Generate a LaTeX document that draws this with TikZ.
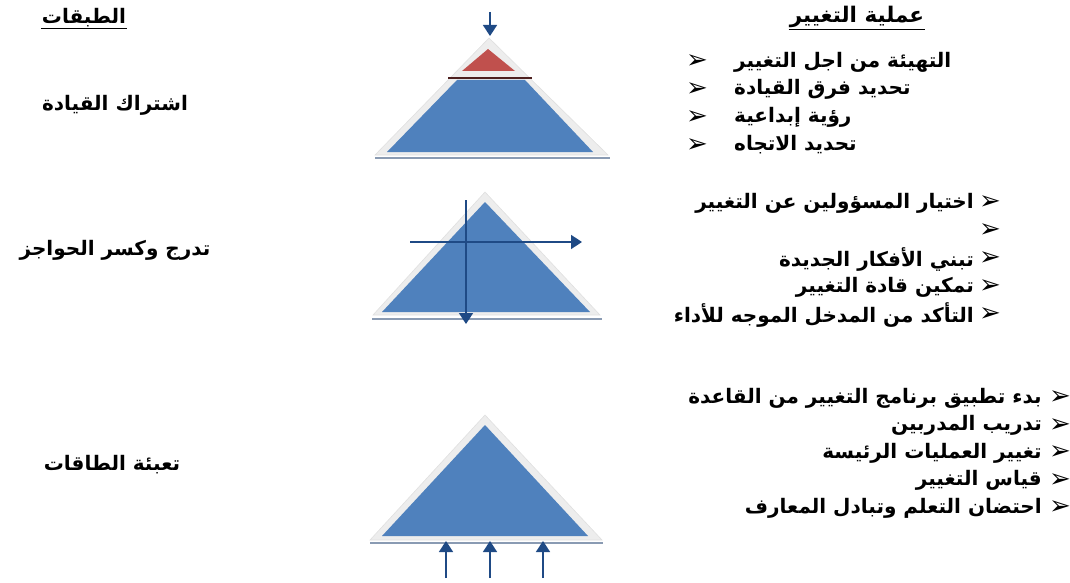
\documentclass[tikz,border=0pt]{standalone}
\usepackage{fontspec}
\usetikzlibrary{arrows.meta}
\newfontfamily\arabicfont[Script=Arabic]{DejaVu Sans}
\newfontfamily\symbolfont{DejaVu Sans}
\TeXXeTstate=1
\definecolor{pyrblue}{HTML}{4F81BD}
\definecolor{pyrred}{HTML}{C0504D}
\definecolor{pyrframe}{HTML}{EDEDED}
\definecolor{pyrshadow}{HTML}{8A9BB3}
\definecolor{arrblue}{HTML}{1F4A85}
\newcommand{\artext}[1]{{\arabicfont\bfseries\beginR #1\endR}}
\newcommand{\bulletsign}{{\symbolfont\bfseries\fontsize{26}{26}\selectfont ➢}}
\begin{document}
\begin{tikzpicture}[x=1pt,y=-1pt, every node/.style={font=\fontsize{20}{22}\selectfont,inner sep=1pt},
  frame/.style={fill=pyrframe,draw=black!12,line width=.6pt},
  shadowline/.style={pyrshadow,line width=2.2pt},
  flow/.style={arrblue,line width=1.6pt,-{Triangle[length=11pt,width=14pt]}}]
  \useasboundingbox (0,0) rectangle (1070,583);
  % headings
  \node[font=\fontsize{21.5}{23}\selectfont] (hright) at (857,17) {\artext{عملية التغيير}};
  \node (hleft) at (84,18) {\artext{الطبقات}};
  \draw[line width=.8pt] (hright.south west) -- (hright.south east);
  \draw[line width=.8pt] (hleft.south west) -- (hleft.south east);
  % layer names
  \node (lay1) at (115,105) {\artext{اشتراك القيادة}};
  \node (lay2) at (115,250) {\artext{تدرج وكسر الحواجز}};
  \node (lay3) at (112,465) {\artext{تعبئة الطاقات}};
  % top pyramid
  \draw[frame] (375,155) -- (489,38) -- (608,155) -- cycle;
  \draw[shadowline] (375,158) -- (610,158);
  \fill[pyrred] (462,71) -- (488,49) -- (515,71) -- cycle;
  \draw[line width=1.6pt,black!60!pyrred] (448,78) -- (532,78);
  \fill[pyrblue] (457,80) -- (525,80) -- (593,152) -- (387,152) -- cycle;
  \coordinate (topin) at (490,12);
  \coordinate (topout) at (490,36);
  \draw[flow] (topin) -- (topout);
  % middle pyramid
  \draw[frame] (373,315) -- (485,192) -- (600,315) -- cycle;
  \draw[shadowline] (372,319) -- (602,319);
  \fill[pyrblue] (382,312) -- (485,202) -- (590,312) -- cycle;
  \coordinate (vstart) at (466,200);
  \coordinate (vend) at (466,324);
  \coordinate (hstart) at (410,242);
  \coordinate (hend) at (582,242);
  \draw[flow] (vstart) -- (vend);
  \draw[flow] (hstart) -- (hend);
  % bottom pyramid
  \draw[frame] (370,540) -- (485,415) -- (602,540) -- cycle;
  \draw[shadowline] (370,543) -- (603,543);
  \fill[pyrblue] (382,536) -- (485,425) -- (588,536) -- cycle;
  \foreach \x [count=\i] in {446,490,543} {
    \coordinate (up\i) at (\x,578);
    \coordinate (base\i) at (\x,541);
    \draw[flow] (up\i) -- (base\i);
  }
  % change process lists
  \foreach \t [count=\i] in {التهيئة من اجل التغيير,تحديد فرق القيادة,رؤية إبداعية,تحديد الاتجاه} {
    \pgfmathsetmacro{\yy}{62+27.7*(\i-1)}
    \node[anchor=west] (ta\i) at (733,\yy) {\artext{\t}};
    \node (ba\i) at (697,\yy) {\bulletsign};
  }
  \foreach \t [count=\i] in {اختيار المسؤولين عن التغيير,{},تبني الأفكار الجديدة,تمكين قادة التغيير,التأكد من المدخل الموجه للأداء} {
    \pgfmathsetmacro{\yy}{203+28*(\i-1)}
    \node[anchor=east] (tb\i) at (975,\yy) {\artext{\t}};
    \node (bb\i) at (990,\yy) {\bulletsign};
  }
  \foreach \t [count=\i] in {بدء تطبيق برنامج التغيير من القاعدة,تدريب المدربين,تغيير العمليات الرئيسة,قياس التغيير,احتضان التعلم وتبادل المعارف} {
    \pgfmathsetmacro{\yy}{398+27.5*(\i-1)}
    \node[anchor=east] (tc\i) at (1043,\yy) {\artext{\t}};
    \node (bc\i) at (1060,\yy) {\bulletsign};
  }
\end{tikzpicture}
\end{document}
